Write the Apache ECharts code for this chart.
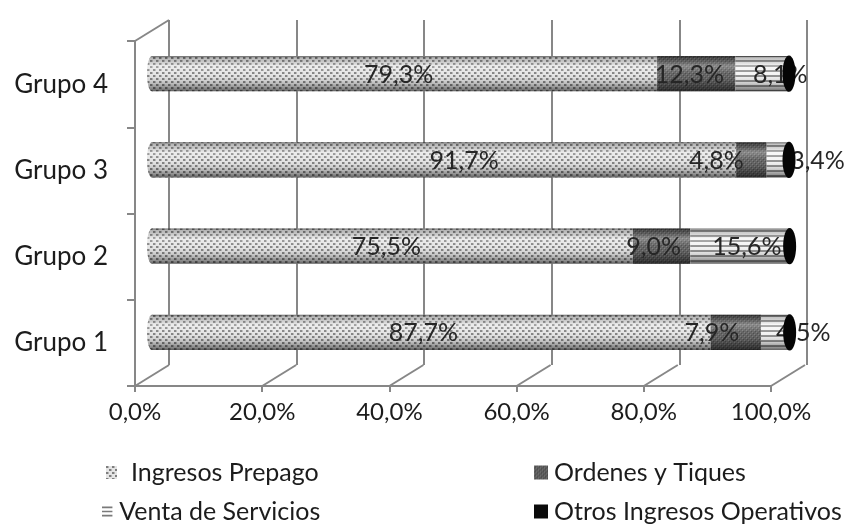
<!DOCTYPE html>
<html>
<head>
<meta charset="utf-8">
<script src="https://cdn.jsdelivr.net/npm/echarts@6/dist/echarts.min.js"></script>
<style>
  html, body { margin: 0; padding: 0; background: #ffffff; }
  #chart { width: 863px; height: 525px; }
</style>
</head>
<body>
<div id="chart"></div>
<script>
// ---- data ----
const categories = ['Grupo 1', 'Grupo 2', 'Grupo 3', 'Grupo 4'];
const seriesNames = ['Ingresos Prepago', 'Ordenes y Tiques', 'Venta de Servicios', 'Otros Ingresos Operativos'];
const ingresosPrepago = [87.7, 75.5, 91.7, 79.3];
const ordenesTiques   = [7.9, 9.0, 4.8, 12.3];
const ventaServicios  = [4.5, 15.6, 3.4, 8.1];
const otrosIngresos   = [0.0, 0.0, 0.1, 0.3];
const xTickValues = [0, 20, 40, 60, 80, 100];

// ---- styling helpers ----
const FONT = 'Lato, "Liberation Sans", sans-serif';
const LINE = '#878787';
const TEXT = '#1c1c1c';
const DEPTH = [34, -21];            // back-wall offset of the 3D frame, in px

function makePattern(w, h, draw) {
  const c = document.createElement('canvas');
  c.width = w; c.height = h;
  draw(c.getContext('2d'));
  return { image: c, repeat: 'repeat' };
}
// stippled light grey
const fillPrepago = makePattern(6, 6, ctx => {
  ctx.fillStyle = '#e4e4e4'; ctx.fillRect(0, 0, 6, 6);
  ctx.fillStyle = '#7e7e7e';
  ctx.fillRect(0, 0, 2, 2); ctx.fillRect(3, 3, 2, 2);
  ctx.fillStyle = '#b4b4b4';
  ctx.fillRect(2, 0, 1, 2); ctx.fillRect(5, 3, 1, 2);
});
// fine dark grey texture
const fillOrdenes = makePattern(4, 4, ctx => {
  ctx.fillStyle = '#5c5c5c'; ctx.fillRect(0, 0, 4, 4);
  ctx.fillStyle = '#787878'; ctx.fillRect(0, 0, 1, 1); ctx.fillRect(2, 2, 1, 1);
  ctx.fillStyle = '#444444'; ctx.fillRect(1, 1, 1, 1); ctx.fillRect(3, 3, 1, 1);
});
// horizontal stripes
const fillVenta = makePattern(4, 5, ctx => {
  ctx.fillStyle = '#f4f4f4'; ctx.fillRect(0, 0, 4, 5);
  ctx.fillStyle = '#8e8e8e'; ctx.fillRect(0, 0, 4, 2);
});
const fillOtros = '#050505';
const fills = [fillPrepago, fillOrdenes, fillVenta, fillOtros];
const baseColors = ['#cfcfcf', '#606060', '#bdbdbd', '#000000'];

// cylinder shading laid over each body
const shade = {
  type: 'linear', x: 0, y: 0, x2: 0, y2: 1,
  colorStops: [
    { offset: 0, color: 'rgba(0,0,0,0.55)' },
    { offset: 0.06, color: 'rgba(0,0,0,0.2)' },
    { offset: 0.28, color: 'rgba(255,255,255,0.3)' },
    { offset: 0.5, color: 'rgba(255,255,255,0.05)' },
    { offset: 0.78, color: 'rgba(0,0,0,0.18)' },
    { offset: 0.93, color: 'rgba(0,0,0,0.42)' },
    { offset: 1, color: 'rgba(0,0,0,0.6)' }
  ]
};

// label nudges (px) where neighbouring labels would collide; rows follow series, columns categories
const labelDx = [
  [-8, -6, 20, -6],
  [-24, -8, -35, -7],
  [28, 7, 40, 19]
];

// ---- stacked segments [start, end, category, value] ----
const seriesValues = [ingresosPrepago, ordenesTiques, ventaServicios, otrosIngresos];
const running = categories.map(() => 0);
const stackedData = seriesValues.map(vals => vals.map((v, i) => {
  const s = running[i];
  running[i] += v;
  return [s, s + v, i, v];
}));

function fmtPct(v) { return v.toFixed(1).replace('.', ',') + '%'; }

function cylinderRenderer(sIdx) {
  const isFirst = sIdx === 0;
  const isLast = sIdx === seriesValues.length - 1;
  return function (params, api) {
    const start = api.value(0), end = api.value(1), cat = api.value(2), val = api.value(3);
    const p0 = api.coord([start, cat]);
    const p1 = api.coord([end, cat]);
    const h = api.size([0, 1])[1] * 0.41;
    const r = h / 2;
    const top = p0[1] - r;
    const children = [];
    if (isFirst) {
      children.push({ type: 'ellipse', shape: { cx: p0[0], cy: p0[1], rx: 5, ry: r }, style: { fill: fills[sIdx] } });
      children.push({ type: 'ellipse', shape: { cx: p0[0], cy: p0[1], rx: 5, ry: r }, style: { fill: shade } });
    }
    const w = Math.max(p1[0] - p0[0], 0);
    if (w > 0) {
      children.push({ type: 'rect', shape: { x: p0[0], y: top, width: w, height: h }, style: { fill: fills[sIdx] } });
      children.push({ type: 'rect', shape: { x: p0[0], y: top, width: w, height: h }, style: { fill: shade } });
    }
    if (!isLast) {
      children.push({
        type: 'text',
        style: {
          x: (p0[0] + p1[0]) / 2 + labelDx[sIdx][cat], y: p0[1] + 1,
          text: fmtPct(val), align: 'center', verticalAlign: 'middle',
          fontSize: 25, fontFamily: FONT, fill: '#262626'
        }
      });
    } else {
      children.push({ type: 'ellipse', shape: { cx: p1[0], cy: p1[1], rx: 6.5, ry: r + 0.5 }, style: { fill: fillOtros } });
    }
    return { type: 'group', children };
  };
}

// floor and wall edges of the 3D frame, drawn from the front grid's scale
const frameEdges = xTickValues.map(v => [v, 0]).concat([[0, 1]]);
function frameRenderer(params, api) {
  const cs = params.coordSys;
  const v = api.value(0), kind = api.value(1);
  const x = api.coord([v, 0])[0];
  const y = kind === 0 ? cs.y + cs.height : cs.y;
  return {
    type: 'line',
    shape: { x1: x, y1: y, x2: x + DEPTH[0], y2: y + DEPTH[1] },
    style: { stroke: LINE, lineWidth: 2 }
  };
}

const chart = echarts.init(document.getElementById('chart'), null, { renderer: 'canvas' });

const legendIcons = [
  { icon: 'rect', color: fillPrepago },
  { icon: 'rect', color: fillOrdenes },
  { icon: 'path://M0,0h10v1.6h-10z M0,4h10v1.6h-10z M0,8h10v1.6h-10z', color: '#7a7a7a' },
  { icon: 'rect', color: '#0a0a0a' }
];
const legendPos = [
  { left: 101, top: 455, w: 11, h: 13 },
  { left: 529, top: 455, w: 14, h: 14 },
  { left: 97, top: 494, w: 12, h: 10 },
  { left: 529, top: 494, w: 14, h: 14 }
];

const option = {
  backgroundColor: '#ffffff',
  animation: false,
  textStyle: { fontFamily: FONT },
  grid: [
    { left: 135, right: 92, top: 41, bottom: 139 },      // front plane (axes)
    { left: 169, right: 56, top: 20, bottom: 160 },      // back wall (gridlines)
    { left: 152, right: 74, top: 30.5, bottom: 149.5 }   // mid depth (cylinders)
  ],
  xAxis: [
    {
      gridIndex: 0, type: 'value', min: 0, max: 100, interval: 20,
      axisLine: { show: true, lineStyle: { color: LINE, width: 2 } },
      axisTick: { show: true, length: 6, lineStyle: { color: LINE, width: 2 } },
      splitLine: { show: false },
      axisLabel: { formatter: v => fmtPct(v), fontSize: 24, color: TEXT, margin: 14, fontFamily: FONT }
    },
    {
      gridIndex: 1, type: 'value', min: 0, max: 100, interval: 20,
      axisLine: { show: false }, axisTick: { show: false }, axisLabel: { show: false },
      splitLine: { show: true, lineStyle: { color: LINE, width: 2 } }
    },
    { gridIndex: 2, type: 'value', min: 0, max: 100, show: false }
  ],
  yAxis: [
    {
      gridIndex: 0, type: 'category', data: categories,
      axisLine: { show: true, lineStyle: { color: LINE, width: 2 } },
      axisTick: { show: true, length: 8, lineStyle: { color: LINE, width: 2 } },
      axisLabel: { fontSize: 26, color: TEXT, margin: 27, fontFamily: FONT }
    },
    { gridIndex: 1, type: 'category', data: categories, show: false },
    { gridIndex: 2, type: 'category', data: categories, show: false }
  ],
  legend: seriesNames.map((name, i) => ({
    data: [{ name, icon: legendIcons[i].icon, itemStyle: { color: legendIcons[i].color } }],
    left: legendPos[i].left, top: legendPos[i].top,
    itemWidth: legendPos[i].w, itemHeight: legendPos[i].h,
    selectedMode: false,
    textStyle: { fontSize: 25, color: TEXT, fontFamily: FONT, padding: [0, 0, 0, i === 0 ? 9 : 1] }
  })),
  series: [
    {
      type: 'custom', name: 'frame', xAxisIndex: 0, yAxisIndex: 0,
      data: frameEdges, renderItem: frameRenderer, silent: true, z: 1
    }
  ].concat(seriesNames.map((name, i) => ({
    type: 'custom', name, xAxisIndex: 2, yAxisIndex: 2,
    itemStyle: { color: baseColors[i] },
    encode: { x: [0, 1], y: 2 },
    data: stackedData[i],
    renderItem: cylinderRenderer(i),
    z: 3
  })))
};

chart.setOption(option);
</script>
</body>
</html>
